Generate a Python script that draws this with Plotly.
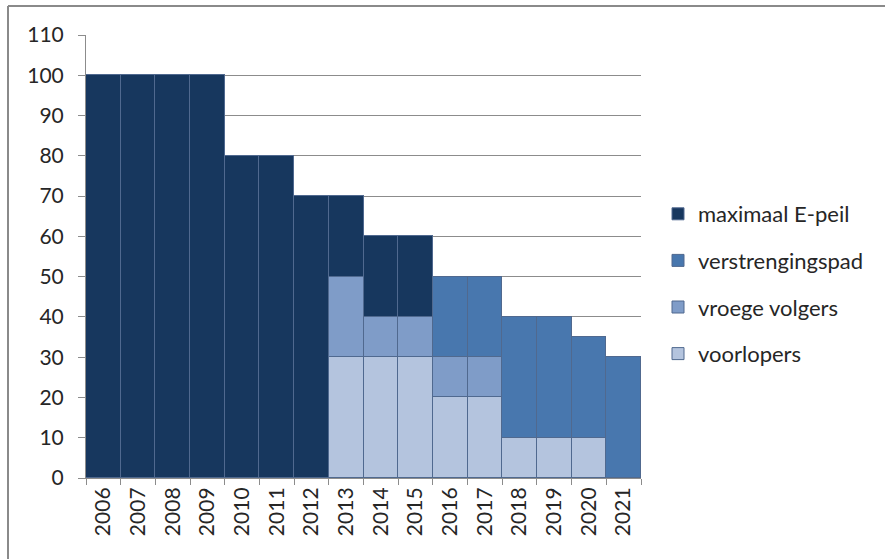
import plotly.graph_objects as go

years = [str(y) for y in range(2006, 2022)]
voorlopers = [None, None, None, None, None, None, None, 30, 30, 30, 20, 20, 10, 10, 10, None]
vroege_volgers = [None, None, None, None, None, None, None, 20, 10, 10, 10, 10, None, None, None, None]
verstrengingspad = [None, None, None, None, None, None, None, None, None, None, 20, 20, 30, 30, 25, 30]
maximaal_e_peil = [100, 100, 100, 100, 80, 80, 70, 20, 20, 20, None, None, None, None, None, None]

series = [
    ("voorlopers", voorlopers, "#B4C4DE", 4),
    ("vroege volgers", vroege_volgers, "#7F9CC8", 3),
    ("verstrengingspad", verstrengingspad, "#4877AE", 2),
    ("maximaal E-peil", maximaal_e_peil, "#17375E", 1),
]

fig = go.Figure()
for name, vals, col, rank in series:
    fig.add_trace(go.Bar(
        x=years, y=vals, name=name, legendgroup=name, legendrank=rank,
        marker=dict(color=col, line=dict(color="#50698F", width=1)),
    ))

L, R, T, B = 86, 641, 35, 478
W, H = 885, 559
pw, ph = R - L, B - T

def px(x):
    return (x - L) / pw

def py(y):
    return (B - y) / ph

fig.update_layout(
    width=W, height=H,
    margin=dict(l=L, r=W - R, t=T, b=H - B),
    barmode="stack", bargap=0,
    paper_bgcolor="white", plot_bgcolor="white",
    font=dict(family="Lato", size=21, color="#262626"),
    legend=dict(
        x=px(658), y=py(193), xanchor="left", yanchor="top",
        traceorder="grouped", tracegroupgap=15,
        font=dict(size=22), itemwidth=30,
    ),
    xaxis=dict(
        type="category", tickangle=-90, tickson="boundaries",
        ticks="outside", ticklen=6, tickcolor="#8c8c8c",
        showline=True, linecolor="#8c8c8c", linewidth=1,
        showgrid=False,
    ),
    yaxis=dict(
        range=[0, 110], dtick=10, tick0=0,
        ticks="outside", ticklen=7, tickcolor="#8c8c8c",
        showline=True, linecolor="#8c8c8c", linewidth=1,
        showgrid=True, gridcolor="#8c8c8c", gridwidth=1,
        zeroline=False, ticklabelstandoff=10,
    ),
    shapes=[
        dict(type="line", xref="paper", yref="paper",
             x0=px(8), x1=px(885), y0=py(6), y1=py(6),
             line=dict(color="#8a8a8a", width=2)),
        dict(type="line", xref="paper", yref="paper",
             x0=px(8), x1=px(8), y0=py(6), y1=py(559),
             line=dict(color="#8a8a8a", width=2)),
    ],
)

fig.write_html("out.html")
